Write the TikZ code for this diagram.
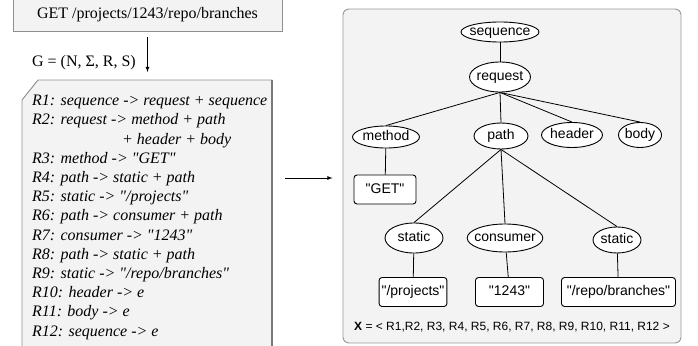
\documentclass[tikz,border=0pt]{standalone}
\usepackage{fontspec}
\setmainfont{Liberation Serif}[Ligatures=TeXOff]
\setsansfont{Liberation Sans}[Ligatures=TeXOff]
\usepackage{tikz}
\usetikzlibrary{calc,shapes.geometric}

\definecolor{boxgray}{HTML}{F3F3F3}
\definecolor{framegray}{HTML}{8E8E8E}

\begin{document}
\begin{tikzpicture}[x=1pt, y=-1pt, >=latex,
        sym/.style={draw, ellipse, fill=white, line width=0.9pt, inner xsep=-4pt, inner ysep=0pt,
            text height=10pt, text depth=3pt, font=\sffamily\fontsize{14}{14}\selectfont},
        term/.style={draw, rounded corners=3pt, fill=white, line width=0.9pt, inner xsep=2.5pt,
            minimum height=29pt, text height=10pt, text depth=3pt, font=\sffamily\fontsize{14}{14}\selectfont},
        link/.style={line width=0.8pt}]
        \useasboundingbox (0,0) rectangle (698,345);

        % Request
        \node[draw=framegray, fill=boxgray, line width=0.9pt, minimum width=269pt, minimum height=33pt,
            font=\fontsize{16}{16}\selectfont] (Call) at (147.5,15) {GET /projects/1243/repo/branches};
        \coordinate (RulesTop) at (147.5,80);
        \draw[->,link,shorten <=5.5pt,shorten >=8pt] (Call.south) -- (RulesTop);
        \node[anchor=east, inner sep=0pt, font=\fontsize{16}{16}\selectfont] (Grammar) at (136,63) {G = (N, Σ, R, S)};

        % Rules
        \draw[draw=framegray, fill=boxgray, line width=0.9pt] (22,347) -- (22,100) -- (38,80) -- (272,80) -- (272,347);
        \draw[framegray!85!black, line width=1.8pt] (272,80) -- (272,347);
        \node[anchor=north west, inner sep=0pt, align=left, font=\itshape\fontsize{16}{19.2}\selectfont] (Rules) at (32,95) {%
            R1: sequence -> request + sequence\\
            R2: request -> method + path\\
            \hspace*{90pt}+ header + body\\
            R3: method -> "GET"\\
            R4: path -> static + path\\
            R5: static -> "/projects"\\
            R6: path -> consumer + path\\
            R7: consumer -> "1243"\\
            R8: path -> static + path\\
            R9: static -> "/repo/branches"\\
            R10: header -> e\\
            R11: body -> e\\
            R12: sequence -> e};

        % Parse tree
        \node[draw=framegray!90, fill=boxgray, line width=0.9pt, rounded corners=6pt,
            minimum width=338pt, minimum height=334pt] (Panel) at (512,176) {};
        \coordinate (RulesOut) at (285,178);
        \draw[->,link] (RulesOut) -- ($(Panel.west)+(-10,2)$);

        \node[sym, minimum width=78pt, minimum height=20pt] (Sequence) at (500,32) {sequence};
        \node[sym, minimum width=61pt, minimum height=30pt] (Request) at (500,77) {request};
        \node[sym, minimum width=67pt, minimum height=22pt] (Method) at (386,137) {method};
        \node[sym, minimum width=54pt, minimum height=26pt] (Path) at (501,136) {path};
        \node[sym, minimum width=61pt, minimum height=25pt] (Header) at (572,135) {header};
        \node[sym, minimum width=43pt, minimum height=25pt] (Body) at (640,135) {body};
        \node[term, minimum width=62pt] (GetTerm) at (385,189.5) {"GET"};
        \node[sym, minimum width=58pt, minimum height=30pt] (StaticA) at (414,238) {static};
        \node[sym, minimum width=72pt, minimum height=28pt] (Consumer) at (505,238) {consumer};
        \node[sym, minimum width=48pt, minimum height=26pt] (StaticB) at (617,240) {static};
        \node[term] (Projects) at (413,292) {"/projects"};
        \node[term, minimum width=68pt] (IdTerm) at (509.5,292) {"1243"};
        \node[term, minimum width=114pt] (Branches) at (618.5,292) {"/repo/branches"};

        \draw[link] (Sequence) -- (Request);
        \foreach \child in {Method, Path, Header, Body}
            \draw[link] (Request.south) -- (\child.north);
        \draw[link] (Method) -- (GetTerm);
        \foreach \child in {StaticA, Consumer, StaticB}
            \draw[link] (Path.south) -- (\child.north);
        \draw[link] (StaticA) -- (Projects);
        \draw[link] (Consumer) -- (IdTerm);
        \draw[link] (StaticB) -- (Branches);

        \node[font=\sffamily\fontsize{12}{12}\selectfont] (Trace) at (512,327)
            {\textbf{X} = < R1,R2, R3, R4, R5, R6, R7, R8, R9, R10, R11, R12 >};
\end{tikzpicture}
\end{document}
